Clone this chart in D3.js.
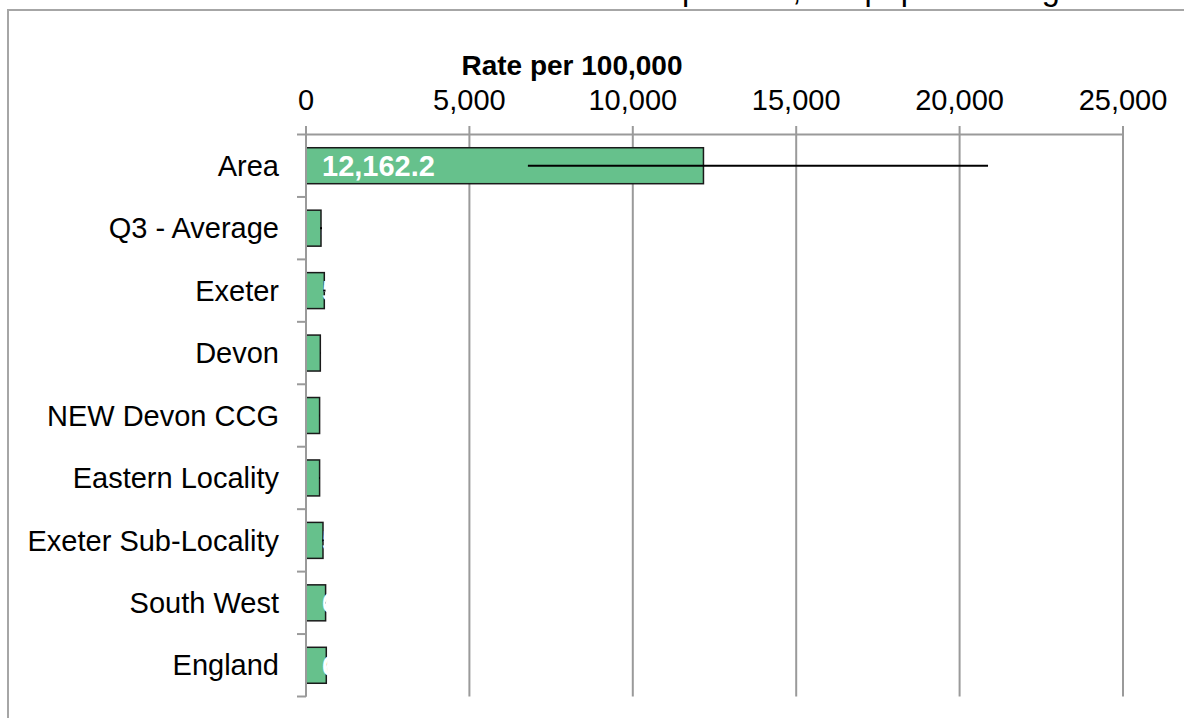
<!DOCTYPE html>
<html>
<head>
<meta charset="utf-8">
<script src="https://cdn.jsdelivr.net/npm/d3@7"></script>
<style>
  html, body { margin: 0; padding: 0; background: #fff; }
  svg { display: block; font-family: "Liberation Sans", Arial, sans-serif; }
</style>
</head>
<body>
<svg id="chart" width="1184" height="718"></svg>
<script>
// ---- Data ----
const categories = ["Area", "Q3 - Average", "Exeter", "Devon", "NEW Devon CCG",
                    "Eastern Locality", "Exeter Sub-Locality", "South West", "England"];
const values     = [12162.2, 459.0, 560.0, 438.0, 416.0, 416.0, 520.0, 600.0, 621.0];
const lowerCI    = [6790, 430, 525, 433, 412, 405, 495, 597, 620];
const upperCI    = [20870, 490, 597, 443, 420, 428, 546, 603, 622];
const xTicks     = [0, 5000, 10000, 15000, 20000, 25000];
const axisTitle  = "Rate per 100,000";
const chartTitle = "Admission rate per 100,000 population aged 65+";

const svg = d3.select("#chart");

// Outer chart frame (extends beyond the visible area)
svg.append("rect")
  .attr("x", 8).attr("y", 10)
  .attr("width", 1300).attr("height", 800)
  .attr("fill", "none").attr("stroke", "#a6a6a6").attr("stroke-width", 2);

// Chart title (mostly cut off at top, only descenders visible)
const prefix = "Admission rate ";
const meas = svg.append("text").attr("font-size", 32.5).text(prefix);
const prefixW = meas.node().getComputedTextLength();
meas.remove();
svg.append("text")
  .attr("x", 673 - prefixW).attr("y", -0.5)
  .attr("font-size", 32.5).attr("fill", "#000")
  .text(chartTitle);

// Scales
const x = d3.scaleLinear().domain([0, 25000]).range([306, 1123]);
const y = d3.scaleBand().domain(categories).range([134.5, 696.5])
  .paddingInner(0.424).paddingOuter(0.212);

const gridColor = "#9a9a9a";

// Vertical gridlines
svg.append("g").selectAll("line").data(xTicks).join("line")
  .attr("x1", d => x(d)).attr("x2", d => x(d))
  .attr("y1", 126).attr("y2", 696.5)
  .attr("stroke", gridColor).attr("stroke-width", 2);

// Top axis line
svg.append("line")
  .attr("x1", x(0)).attr("x2", x(25000))
  .attr("y1", 134.5).attr("y2", 134.5)
  .attr("stroke", gridColor).attr("stroke-width", 2);

// X tick labels
svg.append("g").selectAll("text").data(xTicks).join("text")
  .attr("x", d => x(d)).attr("y", 110)
  .attr("text-anchor", "middle").attr("font-size", 29).attr("fill", "#000")
  .text(d => d3.format(",")(d));

// Axis title
svg.append("text")
  .attr("x", 572).attr("y", 75)
  .attr("text-anchor", "middle").attr("font-size", 28).attr("font-weight", "bold")
  .attr("fill", "#000")
  .text(axisTitle);

// Category axis ticks at band boundaries
const step = y.step();
const boundaries = d3.range(categories.length + 1).map(i => y.range()[0] + i * step);
svg.append("g").selectAll("line").data(boundaries).join("line")
  .attr("x1", 297).attr("x2", x(0))
  .attr("y1", d => d).attr("y2", d => d)
  .attr("stroke", gridColor).attr("stroke-width", 2);

// Category labels
svg.append("g").selectAll("text").data(categories).join("text")
  .attr("x", 279)
  .attr("y", d => y(d) + y.bandwidth() / 2)
  .attr("dy", "0.35em")
  .attr("text-anchor", "end").attr("font-size", 29).attr("fill", "#000")
  .text(d => d);

const rows = categories.map((c, i) => ({ c, v: values[i], lo: lowerCI[i], hi: upperCI[i] }));

// Bars
svg.append("g").selectAll("rect").data(rows).join("rect")
  .attr("x", x(0))
  .attr("y", d => y(d.c))
  .attr("width", d => x(d.v) - x(0))
  .attr("height", y.bandwidth())
  .attr("fill", "#66c18c").attr("stroke", "#1a1a1a").attr("stroke-width", 1.5);

// Value labels (white, inside base)
svg.append("g").selectAll("text").data(rows).join("text")
  .attr("x", x(0) + 16)
  .attr("y", d => y(d.c) + y.bandwidth() / 2)
  .attr("dy", "0.36em")
  .attr("font-size", 29).attr("font-weight", "bold").attr("fill", "#fff")
  .text(d => d3.format(",.1f")(d.v));

// Error bars
svg.append("g").selectAll("line").data(rows).join("line")
  .attr("x1", d => x(d.lo)).attr("x2", d => x(d.hi))
  .attr("y1", d => y(d.c) + y.bandwidth() / 2)
  .attr("y2", d => y(d.c) + y.bandwidth() / 2)
  .attr("stroke", "#000").attr("stroke-width", 2);

// Category axis line
svg.append("line")
  .attr("x1", x(0)).attr("x2", x(0))
  .attr("y1", 126).attr("y2", 696.5)
  .attr("stroke", gridColor).attr("stroke-width", 2);
</script>
</body>
</html>
